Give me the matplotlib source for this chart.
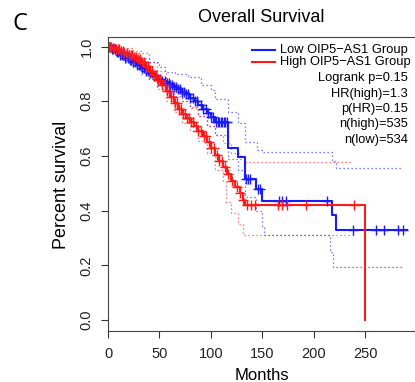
import numpy as np
import matplotlib
matplotlib.use("Agg")
import matplotlib.pyplot as plt
from matplotlib.lines import Line2D

plt.rcParams['font.family'] = ['Liberation Sans', 'DejaVu Sans']

W, H = 415, 382

# Kaplan-Meier steps (months, survival after the step)
low_t = [0, 4, 8, 12, 16, 20, 24, 28, 32, 36, 40, 44, 48, 52, 56, 60, 64, 68, 72,
         76, 80, 84, 88, 92, 96, 100, 104, 117, 126, 133, 144, 150, 218, 222, 291]
low_s = [1.0, .99, .98, .97, .96, .95, .942, .933, .922, .912, .902, .893, .883, .874,
         .866, .858, .852, .846, .835, .825, .813, .8, .787, .773, .758, .742, .725,
         .63, .596, .515, .478, .435, .385, .329, .329]

high_t = [0, 4, 8, 12, 16, 20, 24, 28, 32, 36, 40, 44, 48, 52, 56, 60, 64, 68, 72,
          76, 80, 84, 88, 92, 96, 100, 104, 108, 112, 116, 120, 124, 128, 131, 133, 250]
high_s = [1.0, .995, .99, .983, .976, .97, .963, .956, .945, .93, .912, .895, .878, .86,
          .838, .815, .795, .772, .752, .738, .725, .71, .692, .672, .65, .628, .605,
          .58, .558, .535, .51, .485, .465, .44, .42, 0.0]

# 95% confidence bands (dotted)
low_hi_t = [0, 10, 20, 30, 40, 50, 55, 65, 78, 90, 100, 104, 117, 126, 133, 145, 150, 218, 222, 287]
low_hi_s = [1.0, .99, .975, .96, .945, .925, .908, .9, .89, .86, .84, .81, .76, .72,
            .65, .62, .613, .58, .556, .556]
low_lo_t = [0, 8, 16, 24, 32, 40, 48, 56, 64, 72, 80, 88, 96, 104, 117, 126, 133,
            144, 150, 152, 216, 219, 287]
low_lo_s = [1.0, .97, .945, .925, .9, .88, .855, .835, .82, .8, .78, .745, .71, .675,
            .59, .55, .45, .4, .34, .311, .25, .195, .195]
high_hi_t = [0, 8, 16, 24, 32, 40, 48, 56, 64, 72, 80, 88, 96, 104, 112, 120, 128, 133, 238]
high_hi_s = [1.0, 1.0, .995, .985, .975, .945, .91, .87, .835, .8, .775, .745, .71,
             .675, .647, .61, .59, .577, .577]
high_lo_t = [0, 8, 16, 24, 32, 40, 48, 56, 64, 72, 80, 88, 96, 104, 112, 115, 120,
             126, 131, 238]
high_lo_s = [1.0, .97, .955, .94, .915, .88, .845, .8, .76, .72, .69, .655, .61, .55,
             .51, .43, .39, .35, .311, .311]

# censored observations
low_cens = [1, 2, 4, 5, 7, 9, 10, 12, 14, 15, 17, 19, 21, 22, 24, 26, 28, 30, 31, 33,
            35, 37, 39, 41, 43, 45, 47, 49, 51, 53, 55, 57, 59, 60, 62, 64, 66, 68, 70,
            72, 74, 76, 78, 80, 83, 85, 87, 90, 92, 95, 97, 100, 102, 105, 107, 108,
            110, 111, 113, 114, 116, 134, 136, 138, 146, 148, 166, 169.6, 173, 213,
            238, 261, 268, 282, 287]
high_cens = [1, 2, 3, 5, 6, 8, 10, 11, 13, 15, 16, 18, 20, 22, 23, 25, 27, 29, 31, 33,
             35, 37, 39, 41, 43, 45, 47, 49, 51, 53, 55, 57, 59, 61, 63, 65, 67, 69, 71,
             73, 75, 77, 79, 81, 83, 86, 88, 90, 93, 95, 98, 100, 103, 106, 108, 111,
             114, 117, 121, 125, 128, 131.6, 135, 138.8, 143, 165.7, 169, 174, 193, 239]

stats = ["Logrank p=0.15", "HR(high)=1.3", "p(HR)=0.15", "n(high)=535", "n(low)=534"]

BLUE = "#1a1aff"
RED = "#ff1a1a"


def surv_at(times, surv, t):
    idx = np.searchsorted(times, t, side="right") - 1
    return np.asarray(surv)[idx]


fig = plt.figure(figsize=(W / 100, H / 100), dpi=100)
ax = fig.add_axes([108 / W, (H - 331) / H, (415 - 108) / W, (331 - 37) / H])

dot = (0, (1, 2.2))
for t, s, c in [(low_hi_t, low_hi_s, BLUE), (low_lo_t, low_lo_s, BLUE),
                (high_hi_t, high_hi_s, RED), (high_lo_t, high_lo_s, RED)]:
    ax.step(t, s, where="post", color=c, lw=0.9, linestyle=dot, alpha=0.75)

ax.step(low_t, low_s, where="post", color=BLUE, lw=1.5)
ax.step(high_t, high_s, where="post", color=RED, lw=1.5)
ax.plot(low_cens, surv_at(low_t, low_s, low_cens), "+", color=BLUE, ms=7, mew=1)
ax.plot(high_cens, surv_at(high_t, high_s, high_cens), "+", color=RED, ms=7, mew=1)

ax.set_xlim(0, 298.6)
ax.set_ylim(-0.04, 1.035)
ax.set_xticks([0, 50, 100, 150, 200, 250])
ax.set_yticks([0, 0.2, 0.4, 0.6, 0.8, 1.0])
ax.set_yticklabels(["0.0", "0.2", "0.4", "0.6", "0.8", "1.0"], rotation=90, va="center")
ax.tick_params(direction="out", length=5, width=0.8, labelsize=10.5, pad=6.5,
               colors="#333333", labelcolor="#222222")
ax.tick_params(axis="y", pad=5.5)
ax.spines["right"].set_visible(False)
for sp in ["left", "bottom", "top"]:
    ax.spines[sp].set_linewidth(0.8)
    ax.spines[sp].set_color("#444444")

# labels outside the axes
fig.text(261.5 / W, 1 - 18 / H, "Overall Survival", fontsize=13, ha="center", va="center")
fig.text(261.5 / W, 1 - 375 / H, "Months", fontsize=12, ha="center", va="center")
fig.text(62 / W, 1 - 185 / H, "Percent survival", fontsize=13, rotation=90,
         ha="center", va="center")
fig.text(20 / W, 1 - 24 / H, "C", fontsize=17, ha="center", va="center",
         family=["Open Sans", "DejaVu Sans"])

# legend
for y, c, lab in [(50, BLUE, "Low OIP5\u2212AS1 Group"), (62, RED, "High OIP5\u2212AS1 Group")]:
    fig.add_artist(Line2D([252 / W, 275 / W], [1 - y / H, 1 - y / H], color=c, lw=1.5))
    fig.text(280 / W, 1 - y / H, lab, fontsize=9.3, ha="left", va="center")
for i, txt in enumerate(stats):
    fig.text(408 / W, 1 - (78 + 15.5 * i) / H, txt, fontsize=9.3, ha="right", va="center")

fig.savefig("out.png", dpi=100)
